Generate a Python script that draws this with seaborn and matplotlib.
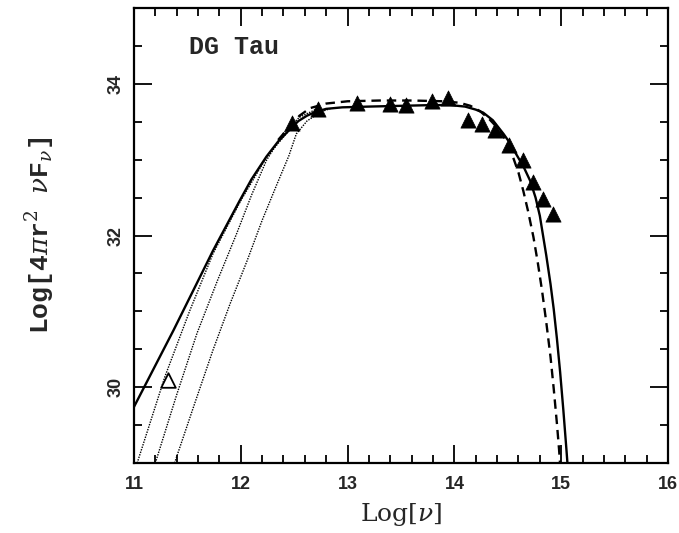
import numpy as np
import matplotlib
matplotlib.use("Agg")
import matplotlib.pyplot as plt
import seaborn as sns
from matplotlib.ticker import MultipleLocator

# observed fluxes (filled = detections, open = low-frequency point)
obs_lognu = [12.48, 12.72, 13.09, 13.40, 13.55, 13.79, 13.94, 14.13,
             14.26, 14.38, 14.51, 14.64, 14.74, 14.83, 14.92]
obs_logf = [33.48, 33.67, 33.75, 33.74, 33.72, 33.78, 33.81, 33.52,
            33.47, 33.39, 33.20, 32.99, 32.71, 32.48, 32.29]
open_lognu = [11.32]
open_logf = [30.09]

# model SED, solid
solid_x = [11.00, 11.37, 11.74, 11.99, 12.10, 12.24, 12.35, 12.46, 12.54, 12.62,
           12.70, 12.80, 12.95, 13.20, 13.50, 13.80, 13.96, 14.10, 14.20, 14.27,
           14.36, 14.46, 14.52, 14.58, 14.65, 14.71, 14.76, 14.80, 14.83, 14.86,
           14.90, 14.93, 14.96, 14.99, 15.02, 15.05, 15.06]
solid_y = [29.74, 30.75, 31.80, 32.46, 32.74, 33.04, 33.24, 33.40, 33.51, 33.58,
           33.63, 33.67, 33.69, 33.70, 33.71, 33.72, 33.72, 33.70, 33.66, 33.62,
           33.52, 33.34, 33.22, 33.07, 32.90, 32.72, 32.50, 32.26, 32.00, 31.74,
           31.36, 31.03, 30.64, 30.20, 29.70, 29.16, 28.97]

# model SED, dashed
dash_x = [12.35, 12.46, 12.55, 12.65, 12.80, 13.00, 13.30, 13.60, 13.90, 14.05,
          14.15, 14.24, 14.33, 14.43, 14.49, 14.55, 14.60, 14.645, 14.69, 14.74,
          14.78, 14.82, 14.86, 14.90, 14.93, 14.96, 14.98, 14.99]
dash_y = [33.26, 33.44, 33.58, 33.68, 33.74, 33.77, 33.78, 33.78, 33.77, 33.75,
          33.71, 33.64, 33.53, 33.38, 33.23, 33.03, 32.83, 32.59, 32.32, 31.98,
          31.65, 31.28, 30.86, 30.40, 29.98, 29.52, 29.18, 28.98]

# dotted model variants on the rising side
dot1_x = [11.03, 11.29, 11.52, 11.74, 12.00, 12.24, 12.46]
dot1_y = [29.00, 30.14, 31.00, 31.76, 32.46, 33.03, 33.40]
dot2_x = [11.20, 11.40, 11.59, 11.78, 11.96, 12.10, 12.24, 12.40, 12.55, 12.70]
dot2_y = [29.00, 29.90, 30.71, 31.40, 32.02, 32.53, 32.99, 33.35, 33.56, 33.66]
dot3_x = [11.38, 11.56, 11.74, 11.90, 12.06, 12.20, 12.34, 12.45, 12.52, 12.62, 12.75, 12.85]
dot3_y = [29.00, 29.75, 30.49, 31.10, 31.67, 32.20, 32.68, 33.05, 33.34, 33.51, 33.63, 33.68]

sns.set_style("white")
plt.rcParams['mathtext.fontset'] = 'dejavuserif'

fig = plt.figure(figsize=(6.79, 5.33), dpi=100)
ax = fig.add_axes([0.1973, 0.1313, 0.7865, 0.8537])

for xs, ys in [(dot1_x, dot1_y), (dot2_x, dot2_y), (dot3_x, dot3_y)]:
    sns.lineplot(x=xs, y=ys, sort=False, estimator=None, color='black',
                 lw=1.0, linestyle=(0, (1, 0.9)), ax=ax)
sns.lineplot(x=solid_x, y=solid_y, sort=False, estimator=None, color='black', lw=1.7, ax=ax)
sns.lineplot(x=dash_x, y=dash_y, sort=False, estimator=None, color='black', lw=1.7,
             linestyle=(0, (4, 2.5)), ax=ax)

sns.scatterplot(x=obs_lognu, y=obs_logf, marker='^', s=120, color='black',
                edgecolor='black', linewidth=0.5, ax=ax, zorder=5)
sns.scatterplot(x=open_lognu, y=open_logf, marker='^', s=110, facecolor='white',
                edgecolor='black', linewidth=1.3, ax=ax, zorder=5)

ax.set_xlim(11, 16)
ax.set_ylim(29, 35)
ax.xaxis.set_major_locator(MultipleLocator(1))
ax.xaxis.set_minor_locator(MultipleLocator(0.2))
ax.yaxis.set_major_locator(MultipleLocator(2))
ax.yaxis.set_minor_locator(MultipleLocator(0.5))
ax.tick_params(which='both', direction='in', bottom=True, left=True, top=True, right=True,
               width=1.3, color='black')
ax.tick_params(which='major', length=13)
ax.tick_params(which='minor', length=6)
ax.tick_params(axis='x', pad=9)
ax.tick_params(axis='y', pad=7)
for lab in ax.get_xticklabels() + ax.get_yticklabels():
    lab.set_fontfamily('Liberation Sans')
    lab.set_fontweight('bold')
    lab.set_fontsize(13)
for lab in ax.get_yticklabels():
    lab.set_rotation(90)
    lab.set_va('center')
for sp in ax.spines.values():
    sp.set_linewidth(1.6)
    sp.set_color('black')

ax.set_xlabel(r'Log[$\nu$]', fontsize=18, family='DejaVu Serif', labelpad=6)
ax.set_ylabel(r'Log[4$\pi$r$^2$ $\nu$F$_\nu$]', fontsize=19, family='Liberation Mono',
              fontweight='bold', labelpad=36)
ax.text(0.103, 0.914, 'DG Tau', transform=ax.transAxes, fontsize=18,
        family='Liberation Mono', fontweight='bold', va='center', ha='left')

fig.savefig('out.png', dpi=100)
